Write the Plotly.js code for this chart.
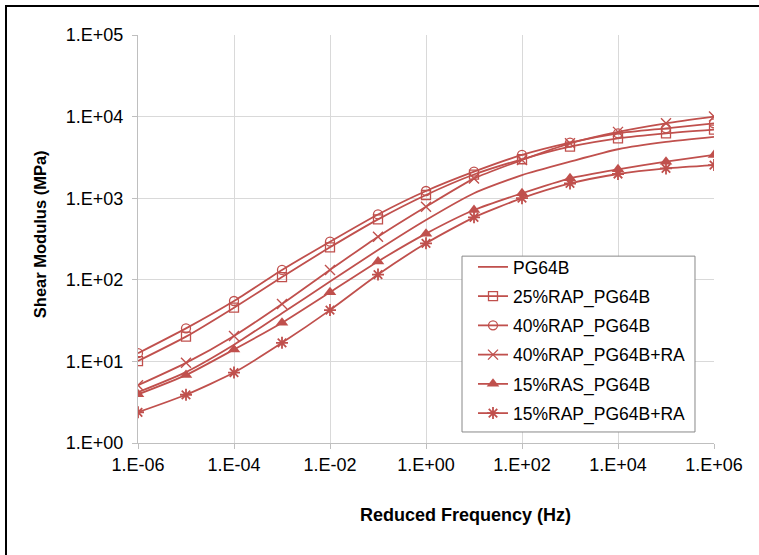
<!DOCTYPE html>
<html>
<head>
<meta charset="utf-8">
<script src="https://cdn.plot.ly/plotly-3.0.1.min.js"></script>
<style>
html,body{margin:0;padding:0;background:#fff;}
#chart{width:759px;height:555px;position:relative;}
#frame{position:absolute;left:5px;top:5px;width:760px;height:560px;border-left:2px solid #000;border-top:2px solid #000;pointer-events:none;}
</style>
</head>
<body>
<div id="chart"></div>
<div id="frame"></div>
<script>
// Reduced frequency (Hz)
const freq = [1e-6,1e-5,1e-4,1e-3,1e-2,1e-1,1e0,1e1,1e2,1e3,1e4,1e5,1e6];
// Shear modulus (MPa)
const pg64b        = [4.2, 7.4, 16, 39, 95, 232, 540, 1150, 1920, 2800, 3980, 4900, 5650];
const rap25_pg64b  = [10.1, 20.1, 45.5, 108, 250, 550, 1095, 1950, 3000, 4280, 5420, 6240, 6930];
const rap40_pg64b  = [12.6, 25.4, 55, 132, 293, 632, 1225, 2112, 3390, 4790, 6240, 7190, 8280];
const rap40_ra     = [5.1, 9.6, 20.5, 50.5, 132, 338, 787, 1740, 2940, 4700, 6500, 8280, 10000];
const ras15_pg64b  = [3.95, 6.8, 14, 29.8, 70.5, 168, 368, 716, 1150, 1755, 2260, 2800, 3390];
const rap15_ra     = [2.38, 3.9, 7.3, 16.9, 42.5, 116, 280, 583, 1000, 1515, 1980, 2320, 2550];

const names = ["PG64B","25%RAP_PG64B","40%RAP_PG64B","40%RAP_PG64B+RA","15%RAS_PG64B","15%RAP_PG64B+RA"];
const xTickVals = [1e-6,1e-4,1e-2,1e0,1e2,1e4,1e6];
const xTickText = ["1.E-06","1.E-04","1.E-02","1.E+00","1.E+02","1.E+04","1.E+06"];
const yTickVals = [1e0,1e1,1e2,1e3,1e4,1e5];
const yTickText = ["1.E+00","1.E+01","1.E+02","1.E+03","1.E+04","1.E+05"];

const red = "#C0504D";
const series = [pg64b, rap25_pg64b, rap40_pg64b, rap40_ra, ras15_pg64b, rap15_ra];
const markers = [
  null,
  {symbol:"square-open", size:9, color:red, line:{width:1.3,color:red}},
  {symbol:"circle-open", size:9, color:red, line:{width:1.3,color:red}},
  {symbol:"x-thin-open", size:10, color:red, line:{width:1.4,color:red}},
  {symbol:"triangle-up", size:11, color:red, line:{width:0,color:red}},
  {symbol:"asterisk-open", size:10, color:red, line:{width:1.8,color:red}}
];

const traces = series.map((s,i)=>{
  const t = {
    x: freq, y: s, name: names[i], type:"scatter", legendgroup:"g"+i,
    mode: markers[i] ? "lines+markers" : "lines",
    line:{color:red, width:1.8, shape:"spline", smoothing:0.6}
  };
  if (markers[i]) t.marker = markers[i];
  return t;
});

const ff = "Liberation Sans, Arial, sans-serif";
const layout = {
  width:759, height:555,
  margin:{l:138, r:45, t:35, b:112},
  paper_bgcolor:"#fff", plot_bgcolor:"#fff",
  showlegend:true,
  font:{family:ff, color:"#000"},
  xaxis:{
    type:"log", range:[-6,6], tickmode:"array", tickvals:xTickVals, ticktext:xTickText,
    showgrid:true, gridcolor:"#d9d9d9", gridwidth:1,
    showline:true, linecolor:"#bfbfbf", linewidth:1,
    ticks:"outside", ticklen:5, tickcolor:"#bfbfbf",
    tickfont:{size:18, family:ff, color:"#000"},
    zeroline:false
  },
  yaxis:{
    type:"log", range:[0,5], tickmode:"array", tickvals:yTickVals, ticktext:yTickText,
    showgrid:true, gridcolor:"#d9d9d9", gridwidth:1,
    showline:true, linecolor:"#bfbfbf", linewidth:1,
    ticks:"outside", ticklen:5, tickcolor:"#bfbfbf", ticklabelstandoff:5,
    tickfont:{size:18, family:ff, color:"#000"},
    zeroline:false
  },
  legend:{
    x:0.5816, y:0.4755, xanchor:"left", yanchor:"top",
    bgcolor:"rgba(0,0,0,0)", borderwidth:0,
    font:{size:17.5, family:ff, color:"#000"},
    itemwidth:30, tracegroupgap:3.5
  },
  shapes:[
    {type:"rect", xref:"paper", yref:"paper", x0:0.5625, x1:0.967, y0:0.027, y1:0.458,
     line:{color:"#888", width:1}, fillcolor:"#fff", layer:"above"}
  ],
  annotations:[
    {text:"<b>Reduced Frequency (Hz)</b>", xref:"paper", yref:"paper", x:0.569, y:-0.176,
     xanchor:"center", yanchor:"middle", showarrow:false, font:{size:18, family:ff, color:"#000"}},
    {text:"<b>Shear Modulus (MPa)</b>", xref:"paper", yref:"paper", x:-0.170, y:0.512,
     xanchor:"center", yanchor:"middle", textangle:-90, showarrow:false, font:{size:16.5, family:ff, color:"#000"}}
  ]
};

Plotly.newPlot("chart", traces, layout, {displayModeBar:false, staticPlot:true});
</script>
</body>
</html>
